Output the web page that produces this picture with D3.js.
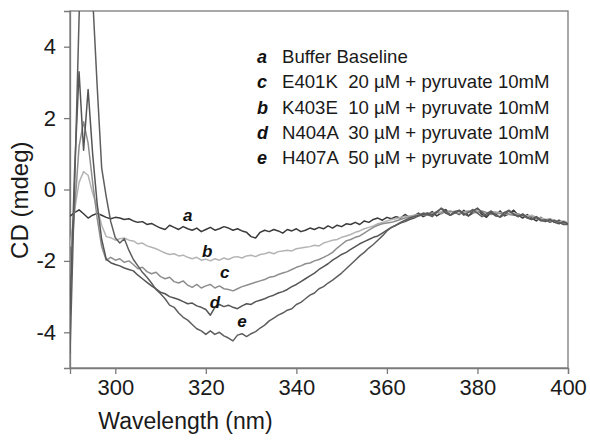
<!DOCTYPE html>
<html>
<head>
<meta charset="utf-8">
<script src="https://cdn.jsdelivr.net/npm/d3@7"></script>
<style>
  body { margin: 0; background: #fff; }
  svg { display: block; font-family: "Liberation Sans", Arial, sans-serif; }
</style>
</head>
<body>
<svg width="590" height="442"></svg>
<script>
// Wavelength grid (nm), one reading per nm
const wavelengths = d3.range(290, 401);

// CD readings (mdeg), 290..400 nm
const bufferBaseline = [
  -0.75, -0.65, -0.57, -0.68, -0.80, -0.72, -0.67, -0.72, -0.78, -0.82,
  -0.78, -0.80, -0.84, -0.82, -0.88, -0.92, -0.90, -0.98, -0.95, -1.02,
  -1.08, -1.12, -1.00, -1.06, -1.12, -1.04, -1.10, -1.14, -1.08, -1.18,
  -1.12, -1.06, -1.14, -1.10, -1.04, -1.08, -1.14, -1.10, -1.16, -1.20,
  -1.32, -1.36, -1.20, -1.14, -1.18, -1.12, -1.16, -1.22, -1.12, -1.16,
  -1.10, -1.18, -1.14, -1.08, -1.12, -1.06, -1.10, -1.02, -1.08, -1.00,
  -1.04, -0.96, -0.98, -0.92, -0.98, -0.88, -0.92, -0.84, -0.80, -0.86,
  -0.78, -0.82, -0.76, -0.80, -0.70, -0.78, -0.74, -0.66, -0.76, -0.70,
  -0.62, -0.74, -0.66, -0.56, -0.72, -0.64, -0.70, -0.58, -0.74, -0.66,
  -0.56, -0.70, -0.78, -0.64, -0.72, -0.60, -0.74, -0.68, -0.58, -0.72,
  -0.80, -0.70, -0.80, -0.88, -0.78, -0.88, -0.82, -0.92, -0.86, -0.94,
  -0.95
];
const k403e = [
  -1.60, -0.60, 0.20, 0.50, 0.40, -0.10, -0.50, -1.00, -1.32, -1.35,
  -1.42, -1.38, -1.36, -1.42, -1.44, -1.52, -1.50, -1.58, -1.62, -1.66,
  -1.72, -1.78, -1.82, -1.80, -1.86, -1.84, -1.90, -1.94, -1.90, -1.98,
  -1.95, -2.00, -1.94, -1.98, -1.92, -1.96, -1.90, -1.88, -1.92, -1.86,
  -1.84, -1.88, -1.82, -1.80, -1.76, -1.80, -1.74, -1.72, -1.70, -1.72,
  -1.66, -1.64, -1.62, -1.60, -1.56, -1.58, -1.50, -1.46, -1.42, -1.40,
  -1.34, -1.30, -1.26, -1.20, -1.16, -1.10, -1.06, -1.02, -0.96, -0.92,
  -0.88, -0.84, -0.82, -0.78, -0.76, -0.74, -0.72, -0.70, -0.68, -0.66,
  -0.68, -0.64, -0.62, -0.66, -0.64, -0.60, -0.62, -0.66, -0.64, -0.60,
  -0.58, -0.62, -0.66, -0.64, -0.62, -0.66, -0.70, -0.68, -0.66, -0.70,
  -0.72, -0.74, -0.72, -0.78, -0.80, -0.84, -0.82, -0.86, -0.90, -0.88,
  -0.92
];
const e401k = [
  -2.40, -0.60, 1.20, 1.90, 1.30, 0.20, -0.80, -1.60, -1.98, -1.90,
  -1.98, -1.94, -2.04, -2.00, -2.10, -2.22, -2.18, -2.30, -2.36, -2.32,
  -2.44, -2.50, -2.46, -2.58, -2.62, -2.56, -2.68, -2.74, -2.66, -2.76,
  -2.70, -2.66, -2.76, -2.70, -2.78, -2.80, -2.84, -2.78, -2.72, -2.68,
  -2.64, -2.60, -2.56, -2.52, -2.46, -2.44, -2.38, -2.34, -2.30, -2.24,
  -2.18, -2.14, -2.08, -2.06, -2.00, -1.96, -1.90, -1.84, -1.76, -1.64,
  -1.54, -1.44, -1.40, -1.34, -1.30, -1.22, -1.14, -1.06, -1.00, -0.96,
  -0.94, -0.92, -0.88, -0.84, -0.80, -0.78, -0.74, -0.72, -0.70, -0.72,
  -0.66, -0.64, -0.68, -0.62, -0.60, -0.64, -0.68, -0.62, -0.60, -0.66,
  -0.64, -0.60, -0.64, -0.70, -0.66, -0.68, -0.64, -0.70, -0.72, -0.68,
  -0.74, -0.78, -0.76, -0.82, -0.84, -0.88, -0.86, -0.90, -0.92, -0.94,
  -0.96
];
const n404a = [
  -3.50, 0.50, 3.30, 1.10, 2.80, 1.00, -0.40, -1.40, -1.95, -2.05,
  -2.10, -2.14, -2.20, -2.24, -2.28, -2.40, -2.50, -2.60, -2.70, -2.78,
  -2.88, -2.92, -3.00, -3.04, -3.08, -3.14, -3.20, -3.18, -3.26, -3.30,
  -3.36, -3.52, -3.30, -3.22, -3.28, -3.24, -3.30, -3.34, -3.26, -3.20,
  -3.22, -3.14, -3.10, -3.06, -3.00, -2.96, -2.90, -2.86, -2.80, -2.72,
  -2.66, -2.58, -2.50, -2.42, -2.34, -2.24, -2.16, -2.08, -1.98, -1.90,
  -1.82, -1.76, -1.68, -1.60, -1.52, -1.46, -1.40, -1.34, -1.30, -1.22,
  -1.14, -1.06, -1.00, -0.94, -0.90, -0.84, -0.80, -0.74, -0.70, -0.66,
  -0.72, -0.62, -0.54, -0.66, -0.72, -0.62, -0.58, -0.68, -0.74, -0.60,
  -0.52, -0.64, -0.74, -0.64, -0.74, -0.76, -0.64, -0.58, -0.70, -0.76,
  -0.68, -0.78, -0.84, -0.76, -0.86, -0.90, -0.84, -0.92, -0.96, -0.90,
  -0.96
];
const h407a = [
  -4.60, 0.00, 4.80, 9.00, 9.50, 5.40, 2.90, 0.60, -0.20, -0.90,
  -1.35, -1.50, -1.38, -1.70, -1.96, -2.14, -2.32, -2.46, -2.62, -2.80,
  -2.92, -3.06, -3.24, -3.30, -3.46, -3.58, -3.66, -3.78, -3.90, -3.96,
  -4.06, -3.96, -4.06, -4.00, -4.10, -4.16, -4.24, -4.08, -4.04, -4.12,
  -4.04, -3.98, -3.88, -3.80, -3.68, -3.60, -3.52, -3.46, -3.38, -3.34,
  -3.22, -3.16, -3.06, -2.96, -2.90, -2.78, -2.72, -2.62, -2.54, -2.44,
  -2.34, -2.22, -2.10, -1.98, -1.86, -1.76, -1.64, -1.54, -1.42, -1.30,
  -1.16, -1.06, -1.00, -0.92, -0.86, -0.80, -0.76, -0.72, -0.66, -0.70,
  -0.76, -0.64, -0.52, -0.60, -0.72, -0.66, -0.60, -0.72, -0.64, -0.56,
  -0.66, -0.76, -0.68, -0.60, -0.70, -0.78, -0.70, -0.60, -0.68, -0.76,
  -0.72, -0.80, -0.84, -0.78, -0.88, -0.84, -0.92, -0.86, -0.92, -0.98,
  -0.98
];

const seriesKeys = ["a", "b", "c", "d", "e"];
const seriesValues = [bufferBaseline, k403e, e401k, n404a, h407a];
const seriesColors = ["#3a3a3a", "#b4b4b4", "#8e8e8e", "#555555", "#5e5e5e"];

// curve letters placed next to the traces: [wavelength, mdeg]
const labelPos = [[316, -0.72], [320.3, -1.73], [324.2, -2.32], [322, -3.16], [328, -3.69]];

// legend, in the order printed on the figure
const legendKeys = ["a", "c", "b", "d", "e"];
const legendTexts = [
  "Buffer Baseline",
  "E401K  20 \u00b5M + pyruvate 10mM",
  "K403E  10 \u00b5M + pyruvate 10mM",
  "N404A  30 \u00b5M + pyruvate 10mM",
  "H407A  50 \u00b5M + pyruvate 10mM"
];

const xTicks = [300, 320, 340, 360, 380, 400];
const yTicks = [-4, -2, 0, 2, 4];

const margin = {top: 11, right: 22, bottom: 74, left: 70};
const width = 590 - margin.left - margin.right;
const height = 442 - margin.top - margin.bottom;

const svg = d3.select("svg");
const g = svg.append("g").attr("transform", `translate(${margin.left},${margin.top})`);

const x = d3.scaleLinear().domain([290, 400]).range([0, width]);
const y = d3.scaleLinear().domain([-5, 5]).range([height, 0]);

svg.append("defs").append("clipPath").attr("id", "plot")
  .append("rect").attr("width", width).attr("height", height);

// frame
g.append("rect")
  .attr("width", width).attr("height", height)
  .attr("fill", "none").attr("stroke", "#7a7a7a").attr("stroke-width", 1.3);

const xAxis = g.append("g")
  .attr("transform", `translate(0,${height})`)
  .call(d3.axisBottom(x).tickValues(xTicks).tickSize(6).tickPadding(5));
const yAxis = g.append("g")
  .call(d3.axisLeft(y).tickValues(yTicks).tickSize(6).tickPadding(8).tickFormat(d3.format("d")));

[xAxis, yAxis].forEach(ax => {
  ax.select(".domain").attr("stroke", "#7a7a7a").attr("stroke-width", 1.3);
  ax.selectAll(".tick line").attr("stroke", "#7a7a7a").attr("stroke-width", 1.3);
  ax.selectAll(".tick text")
    .attr("font-size", 22).attr("fill", "#1a1a1a")
    .attr("font-family", "Liberation Sans, Arial, sans-serif");
});
yAxis.selectAll(".tick text").text(d => d < 0 ? "-" + Math.abs(d) : d);

// traces
const line = d3.line()
  .x((d, i) => x(wavelengths[i]))
  .y(d => y(d));

g.append("g").attr("clip-path", "url(#plot)")
  .selectAll("path")
  .data(seriesValues)
  .join("path")
  .attr("d", line)
  .attr("fill", "none")
  .attr("stroke", (d, i) => seriesColors[i])
  .attr("stroke-width", 1.5)
  .attr("stroke-linejoin", "round");

// curve letters
g.selectAll(".curve-label")
  .data(seriesKeys)
  .join("text")
  .attr("class", "curve-label")
  .attr("x", (d, i) => x(labelPos[i][0]))
  .attr("y", (d, i) => y(labelPos[i][1]))
  .attr("text-anchor", "middle")
  .attr("dominant-baseline", "central")
  .attr("font-size", 17)
  .attr("font-weight", "bold")
  .attr("font-style", "italic")
  .attr("fill", "#111")
  .text(d => d);

// legend
const legend = svg.append("g").attr("transform", "translate(257,63)");
legendKeys.forEach((k, i) => {
  const row = legend.append("g").attr("transform", `translate(0,${i * 25.3})`);
  row.append("text")
    .attr("font-size", 18).attr("font-weight", "bold").attr("font-style", "italic")
    .attr("fill", "#111").text(k);
  row.append("text")
    .attr("x", 25).attr("font-size", 18.6).attr("fill", "#1a1a1a")
    .attr("xml:space", "preserve").style("white-space", "pre")
    .text(legendTexts[i]);
});

// axis titles
svg.append("text")
  .attr("x", margin.left + x(315.5)).attr("y", 429)
  .attr("text-anchor", "middle").attr("font-size", 23).attr("fill", "#1a1a1a")
  .text("Wavelength (nm)");
svg.append("text")
  .attr("transform", `translate(28,${margin.top + y(-0.3)}) rotate(-90)`)
  .attr("text-anchor", "middle").attr("font-size", 24).attr("fill", "#1a1a1a")
  .text("CD (mdeg)");
</script>
</body>
</html>
